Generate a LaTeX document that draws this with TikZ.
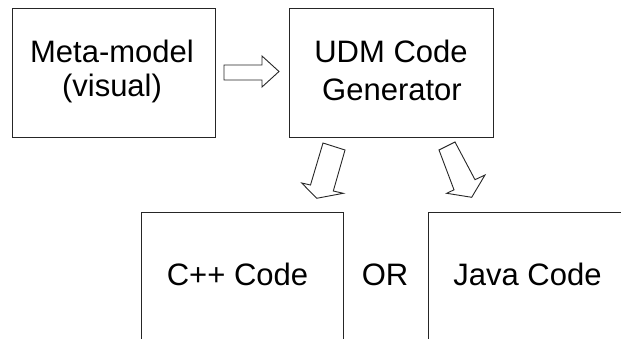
\documentclass[tikz,border=0pt]{standalone}
\usepackage{fontspec}
\setmainfont{Liberation Sans}
\begin{document}
\begin{tikzpicture}[x=1pt,y=-1pt,
  box/.style={draw=black!85,line width=0.9pt,rectangle,inner sep=0pt,anchor=north west},
  lbl/.style={anchor=base,inner sep=0pt,font=\fontsize{31}{36}\selectfont},
  blockarrow/.style={draw=black!85,line width=0.9pt,fill=white,line join=miter}]
\useasboundingbox (0,0) rectangle (621,339);
\clip (0,0) rectangle (621,339);
% boxes
\node[box,minimum width=203pt,minimum height=129pt] (meta) at (12,8) {};
\node[box,minimum width=204pt,minimum height=129pt] (udm) at (289,8) {};
\node[box,minimum width=202pt,minimum height=160pt] (cpp) at (141,212) {};
\node[box,minimum width=220pt,minimum height=160pt] (java) at (428,212) {};
% texts
\node[lbl] (t1) at (112,63) {Meta-model};
\node[lbl] (t2) at (112,97) {(visual)};
\node[lbl] (t3) at (391,63) {UDM Code};
\node[lbl] (t4) at (392,101) {Generator};
\node[lbl] (t5) at (237.5,285) {C++ Code};
\node[lbl] (t6) at (385,285) {OR};
\node[lbl] (t7) at (527.5,285) {Java Code};
% block arrows
\draw[blockarrow] (224,65) -- (262,65) -- (262,56) -- (279,71.5) -- (262,87) -- (262,80) -- (224,80) -- cycle;
\draw[blockarrow] (323,143) -- (345,150) -- (333.3,191) -- (343.3,193.3) -- (316.7,198.3) -- (301.7,183) -- (310.5,185) -- cycle;
\draw[blockarrow] (439,150) -- (455,142) -- (475,179.7) -- (485,175) -- (471.7,197.3) -- (446.7,193.3) -- (454,189.8) -- cycle;
\end{tikzpicture}
\end{document}
